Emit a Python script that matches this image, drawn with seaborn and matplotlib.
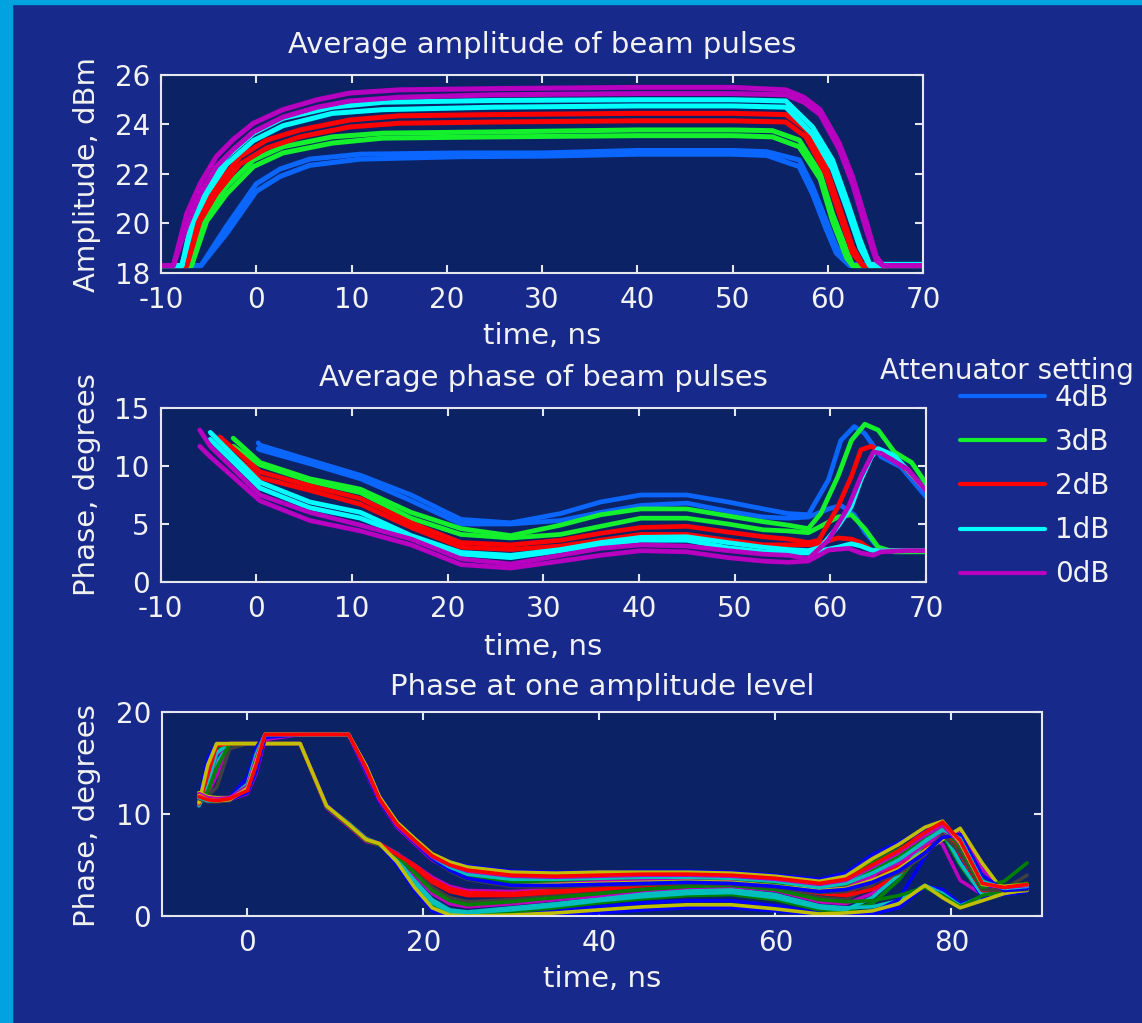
import matplotlib
matplotlib.use("Agg")
import matplotlib.pyplot as plt
import seaborn as sns
from matplotlib.lines import Line2D
from matplotlib.patches import Rectangle

# ---------------- data: average amplitude (dBm) ----------------
settings = ["4dB", "3dB", "2dB", "1dB", "0dB"]

amp_t_4db = [-10, -5.8, -3.1, 0.0, 2.5, 5.6, 10.9, 21.4, 30, 40, 50, 53.6, 57.0, 58.4, 59.8, 60.9, 62.3, 70]
amp_4db_hi = [18.3, 18.3, 19.9, 21.6, 22.2, 22.6, 22.8, 22.85, 22.85, 22.95, 22.95, 22.9, 22.57, 21.5, 20.14, 19.06, 18.35, 18.3]
amp_4db_lo = [18.3, 18.3, 19.6, 21.3, 21.9, 22.35, 22.6, 22.7, 22.72, 22.8, 22.8, 22.75, 22.3, 21.2, 19.8, 18.8, 18.3, 18.3]

amp_t_3db = [-10, -6.8, -5.2, -3.1, -0.3, 2.8, 8.0, 13.3, 25, 40, 50, 54.2, 57.0, 59.2, 60.5, 62.0, 62.6, 70]
amp_3db_hi = [18.3, 18.3, 20.4, 21.5, 22.57, 23.1, 23.5, 23.65, 23.7, 23.78, 23.78, 23.75, 23.37, 22.04, 20.4, 18.9, 18.3, 18.3]
amp_3db_lo = [18.3, 18.3, 20.1, 21.2, 22.3, 22.85, 23.25, 23.45, 23.5, 23.55, 23.55, 23.5, 23.1, 21.8, 20.1, 18.6, 18.3, 18.3]

amp_t_2db = [-10, -7.3, -5.9, -4.2, -1.7, 1.1, 4.6, 9.8, 15, 25, 40, 50, 55.6, 57.7, 59.8, 61.2, 62.6, 63.7, 70]
amp_2db_hi = [18.3, 18.3, 20.4, 21.5, 22.7, 23.37, 23.78, 24.18, 24.35, 24.4, 24.45, 24.45, 24.4, 23.8, 22.3, 20.7, 19.06, 18.3, 18.3]
amp_2db_lo = [18.3, 18.3, 20.1, 21.2, 22.4, 23.05, 23.5, 23.9, 24.05, 24.1, 24.15, 24.15, 24.1, 23.5, 22.0, 20.4, 18.8, 18.3, 18.3]

amp_t_1db = [-10, -7.8, -6.6, -5.2, -3.1, -0.3, 2.8, 8.0, 13.3, 25, 40, 50, 55.6, 58.4, 60.5, 62.0, 63.4, 64.4, 70]
amp_1db_hi = [18.3, 18.3, 20.4, 21.5, 22.7, 23.65, 24.25, 24.7, 24.9, 24.97, 25.0, 25.0, 24.95, 23.9, 22.57, 20.95, 19.33, 18.35, 18.35]
amp_1db_lo = [18.3, 18.3, 20.1, 21.2, 22.4, 23.35, 23.95, 24.45, 24.6, 24.7, 24.75, 24.75, 24.7, 23.6, 22.2, 20.6, 19.0, 18.3, 18.3]

amp_t_0db = [-10, -8.7, -7.3, -5.9, -4.2, -2.4, -0.3, 2.8, 6.4, 9.8, 15, 25, 40, 50, 55.6, 57.5, 59.2, 61.2, 62.6, 64.0, 65.1, 65.8, 70]
amp_0db_hi = [18.3, 18.3, 20.4, 21.6, 22.7, 23.4, 24.05, 24.6, 25.0, 25.27, 25.4, 25.45, 25.5, 25.5, 25.4, 25.1, 24.6, 23.25, 21.9, 20.14, 18.66, 18.3, 18.3]
amp_0db_lo = [18.3, 18.3, 19.9, 21.2, 22.3, 23.0, 23.7, 24.3, 24.7, 24.95, 25.1, 25.2, 25.25, 25.25, 25.2, 24.9, 24.4, 23.0, 21.6, 19.8, 18.5, 18.3, 18.3]

# ---------------- data: average phase (degrees) ----------------
ph_t_4db = [0.2, 0.4, 5.6, 10.9, 16.2, 21.4, 26.6, 31.8, 36, 40.2, 45, 49.3, 53, 55.6, 57.7, 59.8, 61.1, 62.5, 63.6, 65.3, 67.4, 70]
ph_4db_hi = [12.0, 11.8, 10.5, 9.2, 7.5, 5.4, 5.1, 5.9, 6.9, 7.5, 7.5, 6.9, 6.3, 5.9, 5.8, 8.8, 12.2, 13.4, 12.8, 10.8, 9.9, 7.35]
ph_4db_lo = [11.5, 11.4, 10.2, 8.9, 7.0, 5.0, 5.0, 5.3, 6.0, 6.6, 6.8, 6.1, 5.6, 5.5, 5.6, 6.3, 6.6, 5.8, 4.3, 2.7, 2.6, 2.7]

ph_t_3db = [-2.4, 0.4, 5.6, 10.9, 16.2, 21.4, 26.6, 31.8, 36, 40.2, 45, 49.3, 53, 55.6, 57.7, 59.0, 60.8, 62.2, 63.6, 65.0, 66.7, 68.5, 70]
ph_3db_hi = [12.4, 10.3, 8.9, 8.0, 6.0, 4.6, 4.0, 4.9, 5.8, 6.3, 6.3, 5.7, 5.2, 4.9, 4.6, 5.9, 9.1, 12.2, 13.6, 13.1, 11.2, 10.3, 8.5]
ph_3db_lo = [11.7, 10.1, 8.7, 7.7, 5.5, 4.1, 3.8, 4.1, 4.8, 5.5, 5.5, 5.0, 4.5, 4.4, 4.25, 4.8, 5.6, 5.8, 4.6, 3.0, 2.6, 2.6, 2.6]

ph_t_2db = [-3.8, 0.4, 5.6, 10.9, 16.2, 21.4, 26.6, 31.8, 36, 40.2, 45, 49.3, 53, 55.6, 57.7, 58.8, 60.8, 62.2, 63.2, 64.3, 65.3, 67.7, 70]
ph_2db_hi = [12.5, 9.5, 8.3, 7.2, 5.1, 3.4, 3.2, 3.6, 4.2, 4.7, 4.8, 4.3, 3.9, 3.7, 3.4, 3.6, 6.5, 9.1, 11.4, 11.7, 11.2, 9.9, 7.9]
ph_2db_lo = [11.8, 9.0, 7.9, 6.7, 4.7, 3.0, 2.8, 3.1, 3.6, 4.1, 4.1, 3.6, 3.2, 3.2, 3.2, 3.3, 3.8, 3.7, 3.4, 2.75, 2.7, 2.7, 2.7]

ph_t_1db = [-4.8, 0.4, 5.6, 10.9, 16.2, 21.4, 26.6, 31.8, 36, 40.2, 45, 49.3, 53, 55.6, 57.7, 59.0, 60.8, 62.2, 63.2, 64.3, 65.0, 66.7, 70]
ph_1db_hi = [12.9, 8.6, 6.9, 6.0, 4.0, 2.55, 2.3, 2.8, 3.4, 3.85, 3.9, 3.4, 3.0, 2.8, 2.7, 3.0, 4.8, 6.5, 8.8, 10.8, 11.5, 10.9, 7.9]
ph_1db_lo = [12.3, 8.1, 6.4, 5.5, 3.8, 2.4, 2.1, 2.7, 3.2, 3.6, 3.6, 2.95, 2.6, 2.5, 2.5, 2.7, 3.0, 3.3, 3.1, 2.75, 2.7, 2.7, 2.7]

ph_t_0db = [-5.9, -4.8, 0.4, 5.6, 10.9, 16.2, 21.4, 26.6, 31.8, 36, 40.2, 45, 49.3, 53, 55.6, 57.7, 59.8, 61.9, 63.2, 64.5, 65.3, 68.1, 70]
ph_0db_hi = [13.1, 11.7, 7.5, 6.0, 4.9, 3.7, 2.0, 1.55, 2.3, 2.9, 3.2, 3.1, 2.7, 2.4, 2.3, 2.0, 3.6, 6.5, 9.1, 11.2, 11.1, 9.7, 7.9]
ph_0db_lo = [11.7, 10.8, 7.0, 5.3, 4.4, 3.2, 1.5, 1.2, 1.8, 2.3, 2.7, 2.6, 2.1, 1.8, 1.7, 1.8, 2.75, 2.9, 2.5, 2.3, 2.6, 2.7, 2.7]

# ---------------- data: phase at one amplitude level ----------------
lvl_t = [-5.5, -4.5, -3.5, -2, 0, 1, 2, 6, 9, 11.5, 13.5, 15, 17, 19, 21, 23, 25, 30, 35, 40,
         45, 50, 55, 60, 65, 68, 71, 74, 77, 79, 81, 83.5, 86, 88.6]

lvl_a1 = [11.5, 15.5, 16.9, 16.9, 16.9, 16.9, 16.9, 16.9, 10.9, 9.0, 7.5, 7.1,
          5.0, 2.5, 0.5, 0.0, 0.0, 0.2, 0.5, 0.9, 1.3, 1.5, 1.5, 1.0, 0.3, 0.1, 0.2, 0.8, 2.9, 2.6, 1.2, 1.8, 2.3, 2.5]
lvl_a2 = [11.0, 13.5, 16.5, 16.9, 16.9, 16.9, 16.9, 16.9, 10.7, 8.9, 7.4, 7.0,
          5.5, 3.0, 1.0, 0.2, 0.1, 0.4, 0.8, 1.3, 1.7, 2.0, 2.1, 1.6, 0.6, 0.5, 1.2, 3.5, 6.8, 8.0, 5.0, 2.0, 2.4, 2.6]
lvl_a3 = [10.8, 12.5, 15.0, 16.9, 16.9, 16.9, 16.9, 16.9, 10.8, 9.1, 7.6, 7.1,
          5.8, 3.5, 1.6, 0.6, 0.4, 0.8, 1.2, 1.7, 2.2, 2.5, 2.6, 2.1, 1.0, 0.8, 0.9, 1.5, 3.0, 2.2, 1.0, 1.9, 2.6, 3.0]
lvl_a4 = [11.2, 12.0, 13.8, 16.9, 16.9, 16.9, 16.9, 16.9, 10.6, 8.8, 7.3, 7.0,
          6.0, 4.0, 2.2, 1.2, 0.9, 1.2, 1.6, 2.0, 2.5, 2.8, 2.9, 2.5, 1.4, 1.2, 2.2, 4.5, 7.6, 8.6, 5.8, 2.2, 2.5, 2.7]
lvl_a5 = [11.3, 11.8, 12.6, 16.4, 16.9, 16.9, 16.9, 16.9, 10.9, 9.0, 7.5, 7.1,
          6.2, 4.5, 2.8, 1.8, 1.4, 1.6, 2.0, 2.4, 2.8, 3.0, 3.1, 2.8, 1.8, 1.6, 3.0, 5.5, 8.2, 9.0, 6.5, 2.4, 2.6, 4.0]
lvl_a6 = [10.9, 14.0, 16.9, 16.9, 16.9, 16.9, 16.9, 16.9, 10.8, 8.9, 7.4, 7.0,
          5.7, 4.8, 3.3, 2.4, 2.0, 2.0, 2.3, 2.6, 3.0, 3.2, 3.3, 3.0, 2.2, 2.0, 2.6, 4.0, 6.5, 9.0, 7.2, 3.0, 2.7, 2.8]
lvl_a7 = [11.4, 12.8, 15.8, 16.9, 16.9, 16.9, 16.9, 16.9, 10.7, 9.0, 7.5, 7.1,
          6.1, 5.0, 3.8, 2.9, 2.5, 2.4, 2.6, 2.9, 3.2, 3.4, 3.5, 3.2, 2.5, 2.4, 3.8, 6.0, 8.5, 7.0, 3.5, 2.1, 2.5, 2.7]
lvl_a8 = [11.6, 15.0, 16.9, 16.9, 16.9, 16.9, 16.9, 16.9, 10.9, 9.0, 7.5, 7.1,
          5.2, 2.7, 0.6, 0.0, 0.0, 0.0, 0.1, 0.3, 0.6, 0.8, 0.8, 0.5, 0.1, 0.0, 0.3, 1.6, 5.8, 8.4, 5.5, 1.8, 2.1, 2.4]
lvl_a9 = [10.9, 13.0, 16.0, 16.9, 16.9, 16.9, 16.9, 16.9, 10.8, 9.0, 7.5, 7.1,
          5.6, 3.3, 1.3, 0.4, 0.3, 0.6, 1.0, 1.5, 1.9, 2.2, 2.3, 1.8, 0.8, 0.6, 1.8, 4.0, 7.2, 8.3, 5.2, 2.1, 2.3, 2.6]
lvl_a10 = [11.2, 12.2, 14.5, 16.9, 16.9, 16.9, 16.9, 16.9, 10.7, 8.9, 7.4, 7.0,
           5.9, 4.2, 2.5, 1.5, 1.1, 1.4, 1.8, 2.2, 2.6, 2.9, 3.0, 2.6, 1.6, 1.4, 1.5, 2.0, 2.8, 2.0, 0.9, 2.0, 2.5, 2.9]
lvl_a11 = [11.0, 13.8, 16.7, 16.9, 16.9, 16.9, 16.9, 16.9, 10.8, 9.0, 7.5, 7.1,
           6.0, 5.0, 3.6, 2.7, 2.3, 2.2, 2.5, 2.8, 3.1, 3.3, 3.4, 3.1, 2.4, 2.2, 3.4, 5.0, 7.4, 8.8, 6.0, 2.5, 2.6, 2.9]
lvl_a12 = [11.1, 14.8, 16.9, 16.9, 16.9, 16.9, 16.9, 16.9, 10.8, 9.0, 7.5, 7.1,
           5.3, 2.8, 0.8, 0.1, 0.0, 0.1, 0.3, 0.6, 0.9, 1.1, 1.1, 0.7, 0.2, 0.3, 0.5, 1.2, 3.0, 1.8, 0.8, 1.5, 2.2, 2.6]

lvl_b1 = [11.6, 11.3, 11.3, 11.6, 13.6, 16.5, 17.8, 17.8, 17.8, 17.8, 14.8, 11.8,
          9.2, 7.6, 6.0, 5.3, 4.9, 4.4, 4.3, 4.3, 4.4, 4.4, 4.3, 4.0, 3.6, 4.2, 6.0, 7.2, 8.5, 9.2, 7.0, 3.0, 2.8, 3.0]
lvl_b2 = [11.9, 11.5, 11.4, 11.5, 12.8, 15.5, 17.8, 17.8, 17.8, 17.8, 14.5, 11.5,
          9.0, 7.4, 5.9, 5.1, 4.6, 4.1, 4.0, 4.1, 4.2, 4.2, 4.1, 3.8, 3.3, 3.8, 5.2, 6.5, 8.0, 8.8, 7.5, 3.5, 2.9, 3.2]
lvl_b3 = [12.0, 11.6, 11.5, 11.5, 12.2, 14.5, 17.6, 17.8, 17.8, 17.8, 14.2, 11.3,
          8.8, 7.2, 5.7, 4.9, 4.3, 3.8, 3.7, 3.8, 3.9, 3.9, 3.8, 3.5, 3.0, 3.4, 4.6, 6.0, 7.6, 8.4, 7.8, 4.0, 2.6, 2.8]
lvl_b4 = [11.7, 11.4, 11.3, 11.4, 12.0, 14.0, 17.3, 17.8, 17.8, 17.8, 14.0, 11.2,
          8.7, 7.1, 5.5, 4.6, 4.0, 3.5, 3.4, 3.5, 3.6, 3.6, 3.5, 3.2, 2.7, 3.0, 4.0, 5.2, 7.0, 8.0, 8.2, 4.6, 2.4, 2.6]
lvl_b5 = [12.1, 11.7, 11.6, 11.6, 12.4, 15.2, 17.8, 17.8, 17.8, 17.8, 14.6, 11.6,
          9.1, 7.5, 5.8, 4.7, 3.9, 3.2, 3.1, 3.2, 3.3, 3.4, 3.3, 3.0, 2.5, 2.7, 3.5, 4.6, 6.4, 7.5, 8.6, 5.2, 2.3, 2.5]
lvl_b6 = [11.5, 11.2, 11.2, 11.3, 13.0, 16.0, 17.8, 17.8, 17.8, 17.8, 14.7, 11.7,
          9.0, 7.3, 5.6, 4.4, 3.6, 2.9, 2.8, 3.0, 3.1, 3.2, 3.1, 2.8, 2.3, 2.4, 3.2, 4.2, 6.0, 8.0, 6.2, 2.6, 2.5, 2.6]
lvl_b7 = [11.8, 11.5, 11.4, 11.5, 12.6, 15.3, 17.8, 17.8, 17.8, 17.8, 14.4, 11.4,
          8.9, 7.3, 5.7, 4.6, 3.8, 3.3, 3.5, 3.7, 3.8, 3.8, 3.7, 3.3, 2.9, 3.1, 4.4, 5.8, 7.8, 8.7, 6.8, 2.8, 3.4, 5.2]
lvl_b8 = [11.9, 11.5, 11.4, 11.4, 12.1, 14.2, 17.5, 17.8, 17.8, 17.8, 14.1, 11.2,
          8.8, 7.2, 5.6, 4.5, 3.7, 3.0, 3.0, 3.1, 3.2, 3.3, 3.2, 2.9, 2.4, 2.6, 3.3, 4.4, 6.2, 7.7, 8.0, 4.0, 2.5, 2.7]
lvl_b9 = [11.6, 11.3, 11.3, 11.5, 12.9, 15.8, 17.8, 17.8, 17.8, 17.8, 14.6, 11.6,
          9.1, 7.5, 5.8, 4.8, 4.1, 3.6, 3.6, 3.7, 3.8, 3.8, 3.7, 3.4, 2.8, 3.2, 4.2, 5.5, 7.3, 8.5, 7.6, 3.4, 2.7, 2.9]
lvl_b10 = [12.0, 11.6, 11.5, 11.6, 12.7, 15.4, 17.8, 17.8, 17.8, 17.8, 14.3, 11.4,
           8.9, 7.3, 5.8, 5.0, 4.4, 3.9, 3.8, 3.9, 4.0, 4.0, 3.9, 3.6, 3.1, 3.5, 4.8, 6.2, 7.9, 8.9, 7.1, 3.1, 2.8, 3.0]
lvl_b11 = [11.8, 11.4, 11.3, 11.4, 12.5, 15.1, 17.8, 17.8, 17.8, 17.8, 14.7, 11.7,
           9.2, 7.6, 6.1, 5.3, 4.8, 4.3, 4.2, 4.3, 4.3, 4.3, 4.2, 3.9, 3.4, 3.9, 5.6, 7.0, 8.7, 9.3, 7.2, 3.1, 2.9, 3.1]
lvl_b12 = [11.7, 11.4, 11.3, 11.5, 12.3, 14.8, 17.8, 17.8, 17.8, 17.8, 14.5, 11.5,
           9.0, 7.4, 5.9, 5.0, 4.5, 4.0, 3.9, 4.0, 4.1, 4.1, 4.0, 3.7, 3.2, 3.6, 5.0, 6.4, 8.2, 9.2, 7.4, 3.2, 2.8, 3.1]

# ---------------- style ----------------
FIG_BG = "#17298a"
AX_BG = "#0b2365"
EDGE = "#00a3e0"
FG = "#f2f2f2"
SET_COLORS = {"4dB": "#0a66ff", "3dB": "#14f02c", "2dB": "#ff0000",
              "1dB": "#00ffff", "0dB": "#b800c0"}
ML_B, ML_G, ML_R = "#0000ff", "#008000", "#ff0000"
ML_C, ML_M, ML_Y, ML_K = "#00bfbf", "#bf00bf", "#bfbf00", "#404040"

sns.set_style("ticks")
plt.rcParams["font.family"] = ["DejaVu Sans"]
plt.rcParams["font.size"] = 20
plt.rcParams["axes.unicode_minus"] = False

W, H = 1142, 1023
fig = plt.figure(figsize=(W / 100, H / 100), dpi=100, facecolor=FIG_BG)
fig.patches.append(Rectangle((0, 0), 12 / W, 1, transform=fig.transFigure, color=EDGE, zorder=0))
fig.patches.append(Rectangle((0, 1 - 4 / H), 1, 4 / H, transform=fig.transFigure, color=EDGE, zorder=0))


def px_axes(left, top, right, bottom):
    return fig.add_axes([left / W, 1 - bottom / H, (right - left) / W, (bottom - top) / H])


def style(ax, title, pad, ylabel, ylab_xy, xlab_y):
    ax.set_facecolor(AX_BG)
    for sp in ax.spines.values():
        sp.set_color("#e6e6ee")
        sp.set_linewidth(1.5)
    ax.tick_params(direction="in", length=6, width=1.5, color="#e6e6ee", labelcolor=FG,
                   labelsize=20, top=True, right=True)
    ax.tick_params(axis="y", pad=8)
    ax.tick_params(axis="x", pad=9.5)
    ax.set_title(title, color=FG, fontsize=21, pad=pad)
    ax.set_xlabel("time, ns", color=FG, fontsize=21)
    ax.set_ylabel(ylabel, color=FG, fontsize=21)
    ax.xaxis.set_label_coords(0.5, xlab_y)
    ax.yaxis.set_label_coords(*ylab_xy)


def trace(ax, t, v, color, lw):
    sns.lineplot(x=t, y=v, ax=ax, color=color, linewidth=lw, estimator=None, sort=False)


# ---- top: amplitude ----
ax1 = px_axes(161, 75, 923, 273)
amp_sets = [("4dB", amp_t_4db, amp_4db_hi, amp_4db_lo), ("3dB", amp_t_3db, amp_3db_hi, amp_3db_lo),
            ("2dB", amp_t_2db, amp_2db_hi, amp_2db_lo), ("1dB", amp_t_1db, amp_1db_hi, amp_1db_lo),
            ("0dB", amp_t_0db, amp_0db_hi, amp_0db_lo)]
for name, t, hi, lo in amp_sets:
    trace(ax1, t, lo, SET_COLORS[name], 3.6)
    trace(ax1, t, hi, SET_COLORS[name], 3.6)
ax1.set_xlim(-10, 70)
ax1.set_ylim(18, 26)
ax1.set_xticks(range(-10, 71, 10))
ax1.set_yticks(range(18, 27, 2))
style(ax1, "Average amplitude of beam pulses", 16, "Amplitude, dBm", (-0.0787, 0.495), -0.247)

# ---- middle: phase ----
ax2 = px_axes(160.5, 408, 926, 582)
ph_sets = [("4dB", ph_t_4db, ph_4db_hi, ph_4db_lo), ("3dB", ph_t_3db, ph_3db_hi, ph_3db_lo),
           ("2dB", ph_t_2db, ph_2db_hi, ph_2db_lo), ("1dB", ph_t_1db, ph_1db_hi, ph_1db_lo),
           ("0dB", ph_t_0db, ph_0db_hi, ph_0db_lo)]
for name, t, hi, lo in ph_sets:
    trace(ax2, t, lo, SET_COLORS[name], 3.4)
    trace(ax2, t, hi, SET_COLORS[name], 3.4)
ax2.set_xlim(-10, 70)
ax2.set_ylim(0, 15)
ax2.set_xticks(range(-10, 71, 10))
ax2.set_yticks([0, 5, 10, 15])
style(ax2, "Average phase of beam pulses", 16, "Phase, degrees", (-0.0777, 0.56), -0.293)

# legend
handles = [Line2D([], [], color=SET_COLORS[s], lw=3) for s in settings]
fig.legend(handles, settings, loc="upper left", bbox_to_anchor=(960 / W, 1 - 384 / H),
           frameon=False, fontsize=20, labelcolor=FG, handlelength=3.06, handletextpad=0.36,
           labelspacing=0.58, borderpad=0, borderaxespad=0)
fig.text(880 / W, 1 - 371 / H, "Attenuator setting", color=FG, fontsize=20, ha="left", va="center")

# ---- bottom: phase at one amplitude level ----
ax3 = px_axes(162, 712, 1042, 916)
lvl_lines = [(lvl_a1, ML_B), (lvl_a2, ML_G), (lvl_a3, ML_C), (lvl_a4, ML_M), (lvl_a5, ML_K),
             (lvl_a6, ML_R), (lvl_a7, ML_M), (lvl_a8, ML_B), (lvl_a9, ML_C), (lvl_a10, ML_G),
             (lvl_a11, ML_R), (lvl_a12, ML_Y),
             (lvl_b1, ML_B), (lvl_b2, ML_G), (lvl_b3, ML_C), (lvl_b4, ML_M), (lvl_b5, ML_Y),
             (lvl_b6, ML_K), (lvl_b7, ML_G), (lvl_b8, ML_B), (lvl_b9, ML_C), (lvl_b10, ML_M),
             (lvl_b11, ML_Y), (lvl_b12, ML_R)]
for vals, col in lvl_lines:
    trace(ax3, lvl_t, vals, col, 2.6)
ax3.set_xlim(-9.7, 90.3)
ax3.set_ylim(0, 20)
ax3.set_xticks([0, 20, 40, 60, 80])
ax3.set_yticks([0, 10, 20])
style(ax3, "Phase at one amplitude level", 12, "Phase, degrees", (-0.0693, 0.49), -0.24)

fig.savefig("out.png", dpi=100, facecolor=FIG_BG)
